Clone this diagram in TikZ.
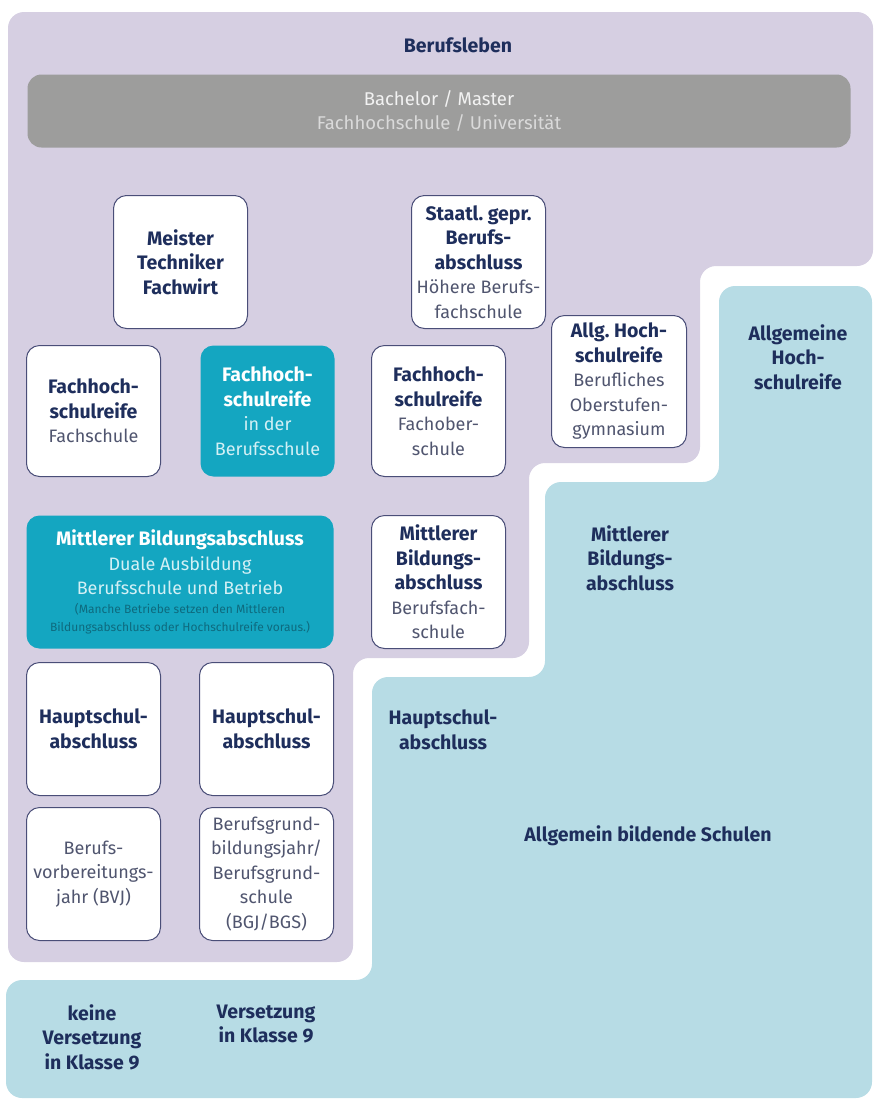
\documentclass[tikz,border=0pt]{standalone}
\usepackage{fontspec}
\setmainfont{Fira Sans}
\frenchspacing

\definecolor{lavender}{HTML}{D6CFE2}
\definecolor{paleteal}{HTML}{B7DCE5}
\definecolor{deepteal}{HTML}{14A6C1}
\definecolor{navy}{HTML}{1E2E5C}
\definecolor{boxline}{HTML}{4A4E78}
\definecolor{greybar}{HTML}{9D9D9C}
\definecolor{slate}{HTML}{50556F}
\definecolor{tealtext}{HTML}{D3F0F5}
\definecolor{notetext}{HTML}{0E6A7E}

\newcommand{\lite}{\fontsize{18}{24.5}\selectfont\mdseries\color{slate}}
\newcommand{\litewhite}{\fontsize{18}{24.5}\selectfont\mdseries\color{tealtext}}

\begin{document}
\begin{tikzpicture}[x=1pt,y=-1pt,line width=1pt,
  wbox/.style={draw=boxline,fill=white,rounded corners=13pt,anchor=north west,
    minimum width=134pt,minimum height=133pt,text width=134pt,inner sep=0pt,
    align=flush center,text=navy,font=\fontsize{19.5}{24.5}\selectfont},
  tbox/.style={wbox,draw=none,fill=deepteal,text=white},
  lbl/.style={inner sep=0pt,text width=200pt,align=flush center,text=navy,
    font=\fontsize{19.5}{24.5}\selectfont\bfseries}]
\path[use as bounding box] (0,0) rectangle (874,1104);
% areas
\fill[lavender,rounded corners=16pt] (8,12) -- (873,12) -- (873,266) -- (700,266) -- (700,463)
  -- (529,463) -- (529,658) -- (353,658) -- (353,962) -- (8,962) -- cycle;
\fill[paleteal,rounded corners=16pt] (719,286) -- (872,286) -- (872,1098) -- (6,1098) -- (6,980)
  -- (372,980) -- (372,677) -- (545,677) -- (545,482) -- (719,482) -- cycle;
\node[lbl] (beruf) at (458,45) {Berufsleben};
\node[anchor=north west,fill=greybar,rounded corners=14pt,minimum width=823pt,minimum height=73pt,
  text width=823pt,inner sep=0pt,align=flush center,font=\fontsize{18.5}{24.5}\selectfont] (bachelor) at (27,74)
  {\color[HTML]{F2F2F2}Bachelor / Master\\\color[HTML]{DADADA}Fachhochschule / Universität};
% boxes
\node[wbox] (meister) at (113,195) {\bfseries Meister\\Techniker\\Fachwirt};
\node[wbox] (staatl) at (411,195) {\bfseries Staatl. gepr.\\Berufs-\\abschluss\\\lite Höhere Berufs-\\fachschule};
\node[wbox,minimum height=131pt] (fhfs) at (26,345) {\bfseries Fachhoch-\\schulreife\\\lite Fachschule};
\node[tbox,minimum height=131pt] (fhbs) at (200,345) {\bfseries Fachhoch-\\schulreife\\\litewhite in der\\Berufsschule};
\node[wbox,minimum height=131pt] (fhfos) at (371,345) {\bfseries Fachhoch-\\schulreife\\\lite Fachober-\\schule};
\node[wbox,minimum width=135pt,text width=135pt,minimum height=132pt] (ahr) at (551,315)
  {\bfseries Allg. Hoch-\\schulreife\\\lite Berufliches\\Oberstufen-\\gymnasium};
\node[tbox,minimum width=307pt,text width=307pt] (dual) at (26,515)
  {\bfseries Mittlerer Bildungsabschluss\\\litewhite Duale Ausbildung\\Berufsschule und Betrieb\\
  {\fontsize{12}{18.5}\selectfont\color{notetext}(Manche Betriebe setzen den Mittleren\\Bildungsabschluss oder Hochschulreife voraus.)\par}};
\node[wbox] (mbfs) at (371,515) {\bfseries Mittlerer\\Bildungs-\\abschluss\\\lite Berufsfach-\\schule};
\node[wbox] (hsa) at (26,662) {\bfseries Hauptschul-\\abschluss};
\node[wbox] (hsb) at (199,662) {\bfseries Hauptschul-\\abschluss};
\node[wbox] (bvj) at (26,807) {\lite Berufs-\\vorbereitungs-\\jahr (BVJ)};
\node[wbox] (bgj) at (199,807) {\lite Berufsgrund-\\bildungsjahr/\\Berufsgrund-\\schule\\(BGJ/BGS)};
% labels on the school steps
\node[lbl] (ahrstep) at (798,357) {Allgemeine\\Hoch-\\schulreife};
\node[lbl] (mbstep) at (630,558) {Mittlerer\\Bildungs-\\abschluss};
\node[lbl] (hsstep) at (443,730) {Hauptschul-\\abschluss};
\node[lbl,text width=300pt] (schulen) at (648,836) {Allgemein bildende Schulen};
\node[lbl] (keine) at (92,1037) {keine\\Versetzung\\in Klasse 9};
\node[lbl] (versetz) at (266,1024) {Versetzung\\in Klasse 9};
\end{tikzpicture}
\end{document}
